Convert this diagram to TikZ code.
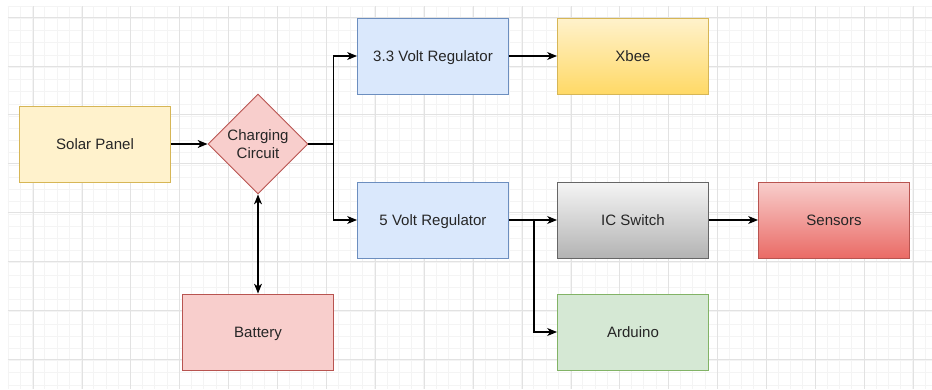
\documentclass[tikz,border=0pt]{standalone}
\usepackage{fontspec}
\setmainfont{Liberation Sans}
\usetikzlibrary{shapes.geometric,arrows.meta,positioning}

\definecolor{yelFill}{HTML}{FFF2CC}
\definecolor{yelLine}{HTML}{D6B656}
\definecolor{yelDark}{HTML}{FFD966}
\definecolor{redFill}{HTML}{F8CECC}
\definecolor{redLine}{HTML}{B85450}
\definecolor{redDark}{HTML}{EA6B66}
\definecolor{bluFill}{HTML}{DAE8FC}
\definecolor{bluLine}{HTML}{6C8EBF}
\definecolor{grnFill}{HTML}{D5E8D4}
\definecolor{grnLine}{HTML}{82B366}
\definecolor{gryTop}{HTML}{F5F5F5}
\definecolor{gryBot}{HTML}{B3B3B3}
\definecolor{gryLine}{HTML}{666666}
\definecolor{gridMaj}{HTML}{E2E2E2}
\definecolor{gridMin}{HTML}{F4F4F4}

\begin{document}
\begin{tikzpicture}[%
	every node/.style={font=\fontsize{10.7}{12.5}\selectfont, text=black!85},
	>={Stealth[length=7pt,width=5.6pt,inset=2pt]}, % draw.io like arrows
	node distance=5cm,          % Global setup of box spacing
	]
	% -------------------------------------------------
	% Box and line styles
	\tikzset{
		base/.style={draw, on grid, align=center, line width=0.6pt, text depth=0pt},
		block/.style={base, rectangle, minimum width=3.775cm, minimum height=1.9cm},
		decide/.style={base, diamond, aspect=1, minimum size=2.5cm, inner sep=0pt, fill=redFill, draw=redLine},
		panel/.style={block, fill=yelFill, draw=yelLine},
		reg/.style={block, fill=bluFill, draw=bluLine},
		wireless/.style={block, top color=yelFill, bottom color=yelDark, draw=yelLine},
		switch/.style={block, top color=gryTop, bottom color=gryBot, draw=gryLine},
		sense/.style={block, top color=redFill, bottom color=redDark, draw=redLine},
		store/.style={block, fill=redFill, draw=redLine},
		mcu/.style={block, fill=grnFill, draw=grnLine},
		wire/.style={->, draw, line width=0.9pt},
	}

	% background grid
	\useasboundingbox (0,0) rectangle (23.3,-9.725);
	\fill[white] (0,0) rectangle (23.3,-9.725);
	\foreach \x in {0,...,75}
		\draw[gridMin, line width=0.4pt] (0.2+0.30563*\x,-0.15) -- ++(0,-9.575);
	\foreach \y in {0,...,31}
		\draw[gridMin, line width=0.4pt] (0.2,-0.15-0.30563*\y) -- ++(23.1,0);
	\foreach \x in {0,...,18}
		\draw[gridMaj, line width=0.5pt] (0.825+1.2225*\x,-0.15) -- ++(0,-9.575);
	\foreach \y in {0,...,7}
		\draw[gridMaj, line width=0.5pt] (0.2,-0.425-1.2225*\y) -- ++(23.1,0);

	\node[panel] at (2.375,-3.6)				(solar)	{Solar Panel};
	\node[decide, right=4.075cm of solar]		(charge)	{Charging\\Circuit};
	\node[reg, above right=2.2cm and 4.375cm of charge]	(reg33)	{3.3 Volt Regulator};
	\node[reg, below=4.1cm of reg33]			(reg5)	{5 Volt Regulator};
	\node[wireless, right=of reg33]				(xbee)	{Xbee};
	\node[switch, right=of reg5]				(icsw)	{IC Switch};
	\node[sense, right=5.025cm of icsw]			(sensors)	{Sensors};
	\node[store, below=4.7cm of charge]			(battery)	{Battery};
	\node[mcu, below=2.8cm of icsw]				(arduino)	{Arduino};

	% junction points of the split lines
	\coordinate[right=6.25mm of charge.east] (splitA);
	\coordinate[right=6.25mm of reg5.east] (splitB);

	\draw[wire] (solar) -- (charge);
	\draw[wire] (charge.east) -- (splitA) |- (reg33.west);
	\draw[wire] (splitA) |- (reg5.west);
	\draw[wire] (reg33) -- (xbee);
	\draw[wire] (reg5) -- (icsw);
	\draw[wire] (splitB) |- (arduino.west);
	\draw[wire] (icsw) -- (sensors);
	\draw[wire, <->] (charge) -- (battery);

\end{tikzpicture}
\end{document}
